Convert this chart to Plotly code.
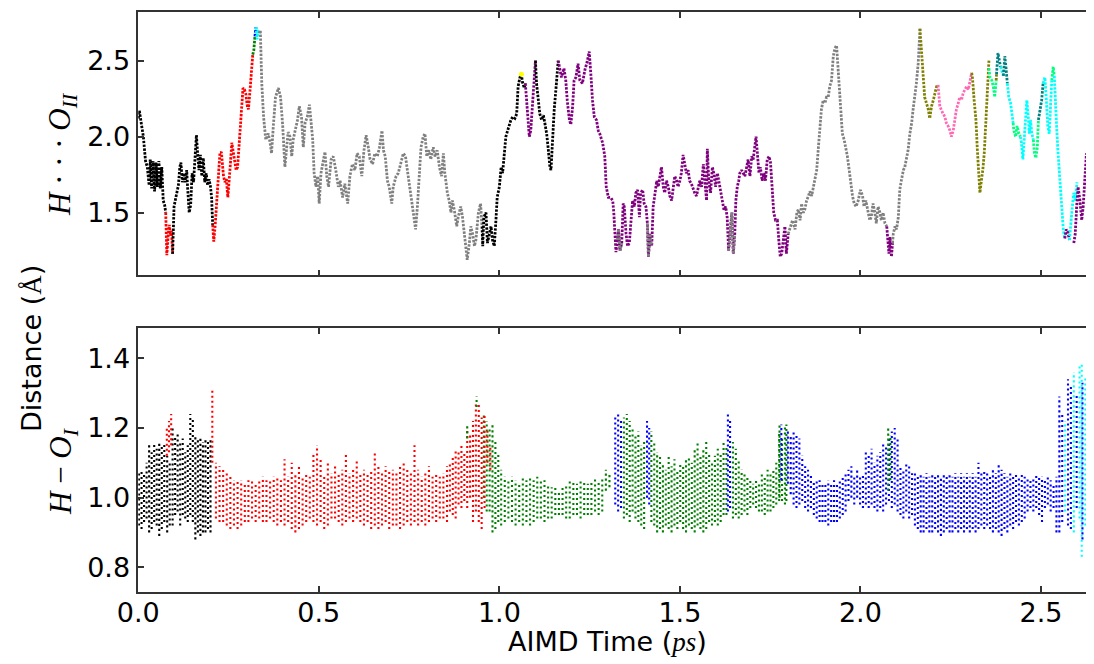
import plotly.graph_objects as go

# ---------------- colours ----------------
BLACK, RED, GRAY, GREEN = "#000000", "#ff0000", "#808080", "#008000"
BLUE, CYAN, YELLOW, PURPLE = "#0000ff", "#00ffff", "#ffff00", "#800080"
OLIVE, PINK, SPRING, TEAL = "#808000", "#ff69b4", "#00ff7f", "#008080"

# ---------------- upper panel: H...O_II distance (time ps, distance A) ----------------
U_BLACK_1 = [(0.000, 2.12), (0.003, 2.17), (0.010, 2.06), (0.014, 2.00), (0.020, 1.84), (0.025, 1.80),
             (0.030, 1.68), (0.033, 1.85), (0.037, 1.66), (0.041, 1.84), (0.045, 1.64), (0.049, 1.83),
             (0.053, 1.67), (0.057, 1.84), (0.061, 1.66), (0.065, 1.80), (0.069, 1.58), (0.073, 1.55),
             (0.076, 1.50)]
U_RED_1 = [(0.076, 1.50), (0.079, 1.22), (0.083, 1.36), (0.086, 1.42), (0.089, 1.35), (0.092, 1.38),
           (0.095, 1.23)]
U_BLACK_2 = [(0.095, 1.23), (0.099, 1.54), (0.104, 1.60), (0.111, 1.68), (0.115, 1.80), (0.118, 1.83),
             (0.122, 1.70), (0.126, 1.76), (0.130, 1.70), (0.134, 1.78), (0.137, 1.65), (0.141, 1.50),
             (0.145, 1.55), (0.149, 1.76), (0.153, 1.70), (0.157, 1.85), (0.161, 2.01), (0.164, 1.90),
             (0.168, 1.78), (0.172, 1.88), (0.176, 1.74), (0.180, 1.86), (0.184, 1.70), (0.188, 1.76),
             (0.192, 1.68), (0.196, 1.72), (0.200, 1.67), (0.203, 1.60), (0.206, 1.42)]
U_RED_2 = [(0.206, 1.42), (0.209, 1.31), (0.213, 1.42), (0.218, 1.58), (0.222, 1.74), (0.226, 1.89),
           (0.230, 1.90), (0.233, 1.78), (0.236, 1.74), (0.240, 1.70), (0.244, 1.72), (0.248, 1.60),
           (0.252, 1.70), (0.255, 1.82), (0.259, 1.96), (0.263, 1.90), (0.267, 1.85), (0.271, 1.78),
           (0.275, 1.80), (0.278, 1.91), (0.282, 2.02), (0.286, 2.18), (0.290, 2.32), (0.294, 2.31),
           (0.298, 2.28), (0.302, 2.20), (0.305, 2.18), (0.309, 2.29), (0.313, 2.39), (0.317, 2.54)]
U_GREEN_1 = [(0.317, 2.54), (0.320, 2.57), (0.323, 2.66)]
U_BLUE_1 = [(0.323, 2.66), (0.326, 2.72)]
U_CYAN_1 = [(0.326, 2.72), (0.329, 2.64), (0.332, 2.70), (0.335, 2.68)]
U_GRAY_1 = [(0.335, 2.68), (0.338, 2.70), (0.342, 2.35), (0.347, 2.13), (0.353, 1.98), (0.360, 2.02),
            (0.365, 1.96), (0.369, 1.89), (0.374, 2.07), (0.380, 2.26), (0.388, 2.32), (0.394, 2.26),
            (0.400, 2.07), (0.406, 1.80), (0.411, 1.93), (0.415, 2.03), (0.420, 2.00), (0.425, 1.87),
            (0.429, 1.98), (0.436, 2.06), (0.441, 2.11), (0.446, 2.20), (0.452, 2.13), (0.457, 1.93),
            (0.462, 2.09), (0.468, 2.13), (0.474, 2.21), (0.478, 2.11), (0.483, 1.98), (0.487, 1.76),
            (0.492, 1.67), (0.497, 1.74), (0.501, 1.56), (0.506, 1.76), (0.513, 1.87), (0.517, 1.90),
            (0.522, 1.74), (0.527, 1.67), (0.534, 1.85), (0.540, 1.87), (0.547, 1.78), (0.554, 1.67),
            (0.559, 1.71), (0.566, 1.60), (0.572, 1.69), (0.580, 1.56), (0.586, 1.74), (0.593, 1.82),
            (0.600, 1.78), (0.606, 1.89), (0.612, 1.87), (0.619, 1.74), (0.625, 1.91), (0.631, 2.01),
            (0.637, 1.93), (0.642, 1.85), (0.649, 1.82), (0.655, 1.89), (0.662, 1.87), (0.668, 1.93),
            (0.675, 2.04), (0.679, 1.91), (0.684, 1.87), (0.690, 1.71), (0.695, 1.67), (0.702, 1.56),
            (0.706, 1.67), (0.714, 1.74), (0.720, 1.76), (0.727, 1.82), (0.734, 1.89), (0.740, 1.87),
            (0.746, 1.76), (0.752, 1.67), (0.757, 1.58), (0.764, 1.43), (0.768, 1.39), (0.773, 1.54),
            (0.778, 1.74), (0.783, 1.93), (0.789, 2.00), (0.794, 2.02), (0.799, 1.87), (0.805, 1.91),
            (0.810, 1.85), (0.817, 1.93), (0.822, 1.87), (0.828, 1.91), (0.834, 1.80), (0.840, 1.74),
            (0.845, 1.89), (0.849, 1.76), (0.856, 1.63), (0.861, 1.58), (0.866, 1.50), (0.870, 1.58),
            (0.875, 1.52), (0.882, 1.41), (0.886, 1.47), (0.893, 1.54), (0.898, 1.47), (0.905, 1.32),
            (0.911, 1.19), (0.917, 1.30), (0.921, 1.41), (0.926, 1.36), (0.931, 1.28), (0.935, 1.32),
            (0.942, 1.50), (0.948, 1.56), (0.952, 1.41)]
U_BLACK_3 = [(0.952, 1.41), (0.954, 1.28), (0.957, 1.47), (0.963, 1.50), (0.967, 1.30), (0.972, 1.36),
             (0.977, 1.41), (0.981, 1.32), (0.986, 1.28), (0.991, 1.47), (0.994, 1.60), (1.000, 1.67),
             (1.005, 1.80), (1.009, 1.76), (1.014, 1.87), (1.018, 2.00), (1.023, 2.04), (1.027, 2.07),
             (1.032, 2.11), (1.037, 2.13), (1.043, 2.12), (1.048, 2.15), (1.052, 2.33), (1.057, 2.39),
             (1.061, 2.41), (1.064, 2.36), (1.069, 2.32), (1.072, 2.35)]
U_YELLOW = [(1.061, 2.41)]
U_PURPLE_1 = [(1.072, 2.35), (1.078, 2.13), (1.083, 2.00), (1.087, 2.04), (1.091, 2.20), (1.096, 2.37),
              (1.100, 2.50)]
U_BLACK_4 = [(1.100, 2.50), (1.103, 2.35), (1.108, 2.24), (1.112, 2.15), (1.117, 2.11), (1.122, 2.14),
             (1.126, 2.09), (1.131, 2.02), (1.135, 1.93), (1.140, 1.80), (1.143, 1.78), (1.147, 1.98),
             (1.152, 2.18), (1.158, 2.35), (1.163, 2.50)]
U_PURPLE_2 = [(1.163, 2.50), (1.168, 2.44), (1.172, 2.39), (1.179, 2.45), (1.184, 2.37), (1.188, 2.24),
              (1.194, 2.11), (1.198, 2.08), (1.203, 2.20), (1.207, 2.37), (1.212, 2.39), (1.218, 2.48),
              (1.223, 2.37), (1.230, 2.35), (1.237, 2.44), (1.243, 2.49), (1.249, 2.56), (1.254, 2.39),
              (1.258, 2.24), (1.263, 2.13), (1.269, 2.11), (1.274, 2.04), (1.278, 2.02), (1.286, 1.96),
              (1.292, 1.87), (1.296, 1.67), (1.302, 1.60), (1.308, 1.60), (1.314, 1.58), (1.317, 1.50),
              (1.320, 1.36), (1.323, 1.24), (1.327, 1.32), (1.330, 1.39), (1.334, 1.25), (1.339, 1.30),
              (1.343, 1.56), (1.346, 1.54), (1.351, 1.36), (1.355, 1.28), (1.360, 1.30), (1.364, 1.45),
              (1.369, 1.58), (1.374, 1.54), (1.378, 1.63), (1.383, 1.65), (1.388, 1.47), (1.391, 1.63),
              (1.397, 1.65), (1.401, 1.56), (1.406, 1.54), (1.410, 1.43), (1.413, 1.21), (1.417, 1.36),
              (1.422, 1.28), (1.426, 1.54), (1.431, 1.63), (1.436, 1.71), (1.440, 1.67), (1.445, 1.76),
              (1.449, 1.80), (1.454, 1.67), (1.458, 1.63), (1.463, 1.71), (1.468, 1.67), (1.472, 1.61),
              (1.477, 1.58), (1.482, 1.67), (1.486, 1.74), (1.491, 1.71), (1.495, 1.67), (1.500, 1.71),
              (1.504, 1.76), (1.509, 1.88), (1.514, 1.80), (1.518, 1.76), (1.523, 1.78), (1.527, 1.71),
              (1.532, 1.69), (1.537, 1.65), (1.541, 1.63), (1.546, 1.61), (1.551, 1.67), (1.555, 1.71),
              (1.560, 1.67), (1.565, 1.82), (1.569, 1.71), (1.574, 1.58), (1.576, 1.92), (1.580, 1.71),
              (1.585, 1.63), (1.590, 1.80), (1.594, 1.76), (1.599, 1.67), (1.604, 1.76), (1.608, 1.71),
              (1.613, 1.65), (1.617, 1.58), (1.622, 1.52), (1.627, 1.54), (1.631, 1.47), (1.635, 1.25),
              (1.639, 1.36), (1.644, 1.50), (1.648, 1.23), (1.652, 1.36), (1.655, 1.58), (1.659, 1.67),
              (1.663, 1.71), (1.666, 1.76), (1.671, 1.78), (1.675, 1.76), (1.680, 1.74), (1.685, 1.80),
              (1.689, 1.85), (1.694, 1.74), (1.699, 1.87), (1.703, 1.85), (1.708, 1.96), (1.711, 2.00),
              (1.714, 1.91), (1.719, 1.76), (1.723, 1.80), (1.728, 1.71), (1.733, 1.76), (1.737, 1.71),
              (1.742, 1.85), (1.747, 1.87), (1.751, 1.83), (1.756, 1.67), (1.760, 1.50), (1.765, 1.45),
              (1.770, 1.45), (1.774, 1.32), (1.778, 1.21), (1.782, 1.23), (1.787, 1.36), (1.791, 1.41),
              (1.795, 1.23), (1.800, 1.36)]
U_GRAY_A = [(1.327, 1.32), (1.330, 1.39), (1.334, 1.25), (1.339, 1.30)]
U_GRAY_B = [(1.410, 1.43), (1.413, 1.21), (1.417, 1.36), (1.422, 1.28)]
U_GRAY_C = [(1.635, 1.25), (1.639, 1.36), (1.644, 1.50), (1.648, 1.23), (1.652, 1.36)]
U_GRAY_2 = [(1.800, 1.36), (1.807, 1.41), (1.812, 1.45), (1.819, 1.39), (1.824, 1.50), (1.828, 1.52),
            (1.833, 1.45), (1.837, 1.56), (1.842, 1.50), (1.846, 1.52), (1.851, 1.58), (1.856, 1.61),
            (1.860, 1.64), (1.865, 1.61), (1.870, 1.67), (1.874, 1.71), (1.879, 1.78), (1.883, 1.91),
            (1.888, 2.04), (1.892, 2.18), (1.897, 2.24), (1.902, 2.22), (1.906, 2.26), (1.911, 2.26),
            (1.915, 2.33), (1.920, 2.37), (1.925, 2.53), (1.929, 2.58), (1.934, 2.60), (1.937, 2.50),
            (1.941, 2.33), (1.946, 2.18), (1.950, 2.02), (1.955, 1.98), (1.960, 1.93), (1.964, 1.87),
            (1.969, 1.78), (1.974, 1.67), (1.978, 1.61), (1.983, 1.56), (1.988, 1.54), (1.994, 1.58),
            (2.000, 1.65), (2.006, 1.61), (2.010, 1.54), (2.015, 1.58), (2.020, 1.52), (2.026, 1.45),
            (2.030, 1.47), (2.035, 1.56), (2.040, 1.50), (2.044, 1.43), (2.049, 1.54), (2.054, 1.50),
            (2.058, 1.45), (2.063, 1.50), (2.068, 1.43), (2.073, 1.41)]
U_PURPLE_3 = [(2.073, 1.41), (2.075, 1.36), (2.079, 1.23), (2.082, 1.34), (2.084, 1.28), (2.086, 1.21),
              (2.089, 1.30)]
U_GRAY_3 = [(2.089, 1.30), (2.091, 1.36), (2.096, 1.41), (2.100, 1.39), (2.105, 1.47), (2.109, 1.65),
            (2.114, 1.72), (2.119, 1.78), (2.123, 1.80), (2.128, 1.87), (2.132, 1.91), (2.137, 2.02),
            (2.142, 2.09), (2.146, 2.18), (2.151, 2.26), (2.155, 2.35), (2.160, 2.48), (2.165, 2.71)]
U_OLIVE_1 = [(2.165, 2.71), (2.169, 2.57), (2.174, 2.37), (2.178, 2.26), (2.183, 2.22), (2.188, 2.18),
             (2.192, 2.12), (2.197, 2.20), (2.202, 2.24), (2.206, 2.29), (2.211, 2.33), (2.215, 2.34)]
U_PINK_1 = [(2.215, 2.34), (2.217, 2.25), (2.220, 2.20), (2.225, 2.17), (2.229, 2.15), (2.234, 2.13),
            (2.238, 2.09), (2.243, 2.07), (2.248, 2.04), (2.252, 2.00), (2.257, 2.04), (2.262, 2.13),
            (2.266, 2.18), (2.271, 2.22), (2.275, 2.26), (2.280, 2.24), (2.285, 2.29), (2.290, 2.31),
            (2.294, 2.33), (2.299, 2.31), (2.303, 2.37), (2.308, 2.42)]
U_OLIVE_2 = [(2.308, 2.42), (2.310, 2.40), (2.315, 2.24), (2.320, 2.11), (2.324, 1.91), (2.328, 1.76),
             (2.331, 1.63), (2.335, 1.71), (2.339, 1.78), (2.343, 1.89), (2.347, 2.07), (2.350, 2.26),
             (2.354, 2.39), (2.356, 2.50)]
U_SPRING_1 = [(2.356, 2.45), (2.359, 2.39), (2.364, 2.37), (2.368, 2.33), (2.372, 2.26), (2.376, 2.37)]
U_OLIVE_3 = [(2.376, 2.37), (2.377, 2.41)]
U_TEAL_1 = [(2.377, 2.41), (2.381, 2.55), (2.385, 2.50), (2.388, 2.46)]
U_CYAN_2 = [(2.388, 2.46), (2.392, 2.42), (2.396, 2.40)]
U_TEAL_2 = [(2.396, 2.40), (2.400, 2.53), (2.403, 2.46), (2.407, 2.35)]
U_CYAN_3 = [(2.407, 2.35), (2.411, 2.26), (2.416, 2.22), (2.420, 2.15), (2.423, 2.09)]
U_SPRING_2 = [(2.423, 2.09), (2.425, 2.04), (2.430, 2.00), (2.434, 2.07), (2.439, 2.02), (2.443, 2.00)]
U_CYAN_4 = [(2.443, 2.00), (2.446, 1.96), (2.450, 1.85), (2.454, 1.98), (2.457, 2.13), (2.461, 2.24),
            (2.465, 2.13), (2.468, 2.02), (2.471, 2.11), (2.475, 2.02), (2.479, 1.98)]
U_SPRING_3 = [(2.479, 1.98), (2.482, 1.89), (2.486, 1.86), (2.490, 1.93), (2.493, 2.11)]
U_TEAL_3 = [(2.493, 2.11), (2.497, 2.18), (2.502, 2.24), (2.506, 2.35)]
U_CYAN_5 = [(2.506, 2.35), (2.511, 2.39), (2.515, 2.24), (2.519, 2.07), (2.523, 2.02), (2.527, 2.24),
            (2.530, 2.37)]
U_SPRING_4 = [(2.530, 2.37), (2.534, 2.46), (2.537, 2.40)]
U_CYAN_6 = [(2.537, 2.40), (2.541, 2.24), (2.543, 2.09), (2.547, 1.91), (2.551, 1.76), (2.554, 1.63),
            (2.558, 1.54), (2.562, 1.39), (2.566, 1.33)]
U_PURPLE_4 = [(2.566, 1.33), (2.570, 1.39), (2.575, 1.37), (2.579, 1.32)]
U_CYAN_7 = [(2.579, 1.32), (2.583, 1.45), (2.587, 1.54), (2.591, 1.63), (2.595, 1.58), (2.600, 1.70)]
U_PURPLE_5 = [(2.591, 1.30), (2.595, 1.36), (2.599, 1.54), (2.603, 1.67), (2.608, 1.58), (2.613, 1.45),
              (2.617, 1.54), (2.621, 1.72), (2.626, 1.89), (2.631, 1.76), (2.635, 1.63), (2.640, 1.80),
              (2.645, 1.98), (2.650, 2.05)]

UPPER_SEGMENTS = [
    (BLACK, U_BLACK_1), (RED, U_RED_1), (BLACK, U_BLACK_2), (RED, U_RED_2), (GREEN, U_GREEN_1),
    (BLUE, U_BLUE_1), (CYAN, U_CYAN_1), (GRAY, U_GRAY_1), (BLACK, U_BLACK_3), (PURPLE, U_PURPLE_1),
    (BLACK, U_BLACK_4), (PURPLE, U_PURPLE_2), (GRAY, U_GRAY_A), (GRAY, U_GRAY_B), (GRAY, U_GRAY_C),
    (GRAY, U_GRAY_2), (PURPLE, U_PURPLE_3), (GRAY, U_GRAY_3), (OLIVE, U_OLIVE_1), (PINK, U_PINK_1),
    (OLIVE, U_OLIVE_2), (SPRING, U_SPRING_1), (OLIVE, U_OLIVE_3), (TEAL, U_TEAL_1), (CYAN, U_CYAN_2),
    (TEAL, U_TEAL_2), (CYAN, U_CYAN_3), (SPRING, U_SPRING_2), (CYAN, U_CYAN_4), (SPRING, U_SPRING_3),
    (TEAL, U_TEAL_3), (CYAN, U_CYAN_5), (SPRING, U_SPRING_4), (CYAN, U_CYAN_6), (PURPLE, U_PURPLE_4),
    (CYAN, U_CYAN_7), (PURPLE, U_PURPLE_5),
]

# ---------------- lower panel: H-O_I distance, one vibration column = (time ps, min A, max A) ----------------
L_BLACK_1 = [(0.002, 0.92, 1.07), (0.009, 0.91, 1.08), (0.016, 0.93, 1.07), (0.023, 0.94, 1.10),
             (0.030, 0.90, 1.15), (0.037, 0.91, 1.13), (0.044, 0.93, 1.16), (0.051, 0.92, 1.14),
             (0.058, 0.89, 1.16), (0.065, 0.91, 1.15), (0.072, 0.93, 1.16)]
L_BLACK_2 = [(0.080, 0.90, 1.12), (0.087, 0.92, 1.10), (0.095, 0.92, 1.20), (0.102, 0.95, 1.18),
             (0.109, 0.96, 1.19), (0.116, 0.92, 1.16), (0.123, 0.95, 1.17), (0.130, 0.94, 1.13),
             (0.137, 0.93, 1.15), (0.144, 0.95, 1.24), (0.151, 0.93, 1.23), (0.158, 0.88, 1.18),
             (0.165, 0.90, 1.17), (0.172, 0.89, 1.17), (0.179, 0.90, 1.16), (0.186, 0.90, 1.17),
             (0.193, 0.91, 1.16), (0.200, 0.90, 1.17)]
L_RED_1 = [(0.079, 1.12, 1.20), (0.085, 1.13, 1.22), (0.091, 1.15, 1.24)]
L_RED_2 = [(0.205, 1.10, 1.31), (0.215, 0.94, 1.10), (0.225, 0.93, 1.09), (0.235, 0.93, 1.08),
           (0.245, 0.92, 1.07), (0.255, 0.91, 1.06), (0.265, 0.92, 1.05), (0.275, 0.91, 1.05),
           (0.285, 0.92, 1.05), (0.295, 0.93, 1.04), (0.305, 0.93, 1.05), (0.315, 0.94, 1.05),
           (0.325, 0.93, 1.04), (0.335, 0.94, 1.05), (0.345, 0.93, 1.06), (0.355, 0.93, 1.05),
           (0.365, 0.94, 1.05), (0.375, 0.93, 1.06), (0.385, 0.92, 1.06), (0.395, 0.93, 1.05),
           (0.405, 0.92, 1.11), (0.415, 0.93, 1.06), (0.425, 0.91, 1.10), (0.435, 0.90, 1.07),
           (0.445, 0.91, 1.09), (0.455, 0.92, 1.06), (0.465, 0.93, 1.07), (0.475, 0.94, 1.06),
           (0.485, 0.93, 1.13), (0.495, 0.92, 1.15), (0.505, 0.93, 1.11), (0.515, 0.91, 1.06),
           (0.525, 0.92, 1.10), (0.535, 0.94, 1.07), (0.545, 0.94, 1.09), (0.555, 0.93, 1.07),
           (0.565, 0.92, 1.08), (0.575, 0.93, 1.13), (0.585, 0.94, 1.07), (0.595, 0.93, 1.08),
           (0.605, 0.94, 1.11), (0.615, 0.93, 1.07), (0.625, 0.92, 1.08), (0.635, 0.93, 1.07),
           (0.645, 0.91, 1.08), (0.655, 0.92, 1.13), (0.665, 0.91, 1.09), (0.675, 0.92, 1.07),
           (0.685, 0.93, 1.09), (0.695, 0.91, 1.08), (0.705, 0.92, 1.08), (0.715, 0.92, 1.07),
           (0.725, 0.91, 1.09), (0.735, 0.92, 1.10), (0.745, 0.93, 1.08), (0.755, 0.92, 1.07),
           (0.765, 0.93, 1.15), (0.775, 0.92, 1.08), (0.785, 0.93, 1.06), (0.795, 0.92, 1.07),
           (0.805, 0.93, 1.09), (0.815, 0.94, 1.06), (0.825, 0.93, 1.07), (0.835, 0.94, 1.06)]
L_GREEN_1 = [(0.957, 1.00, 1.24), (0.965, 0.96, 1.22), (0.973, 0.96, 1.20), (0.981, 0.90, 1.21),
             (0.989, 0.91, 1.16), (0.997, 0.93, 1.13), (1.005, 0.92, 1.08), (1.015, 0.93, 1.06),
             (1.025, 0.94, 1.05), (1.035, 0.93, 1.06), (1.045, 0.92, 1.05), (1.055, 0.93, 1.04),
             (1.065, 0.92, 1.06), (1.075, 0.93, 1.05), (1.085, 0.92, 1.06), (1.095, 0.93, 1.05),
             (1.105, 0.94, 1.06), (1.115, 0.94, 1.05), (1.125, 0.93, 1.05), (1.135, 0.94, 1.04),
             (1.145, 0.94, 1.03), (1.155, 0.95, 1.03), (1.165, 0.95, 1.02), (1.175, 0.95, 1.03),
             (1.185, 0.94, 1.04), (1.195, 0.94, 1.05), (1.205, 0.95, 1.05), (1.215, 0.95, 1.04),
             (1.225, 0.94, 1.05), (1.235, 0.95, 1.05), (1.245, 0.95, 1.04), (1.255, 0.95, 1.05),
             (1.265, 0.96, 1.06), (1.275, 0.95, 1.05), (1.285, 0.96, 1.06), (1.295, 1.02, 1.08),
             (1.305, 1.03, 1.07)]
L_RED_3 = [(0.845, 0.94, 1.07), (0.855, 0.93, 1.09), (0.863, 0.96, 1.10), (0.871, 0.95, 1.12),
           (0.879, 0.94, 1.14), (0.887, 0.98, 1.13), (0.895, 0.97, 1.15), (0.903, 0.99, 1.13),
           (0.911, 0.97, 1.20), (0.919, 1.00, 1.18), (0.927, 0.93, 1.22), (0.935, 0.96, 1.27),
           (0.943, 0.93, 1.27), (0.951, 0.91, 1.23), (0.959, 0.97, 1.24), (0.967, 1.10, 1.20),
           (0.975, 1.08, 1.15)]
L_GREEN_TIPS = [(0.911, 1.17, 1.21), (0.937, 1.26, 1.29)]
L_GREEN_2 = [(1.345, 0.94, 1.23), (1.353, 0.95, 1.24), (1.361, 0.93, 1.22), (1.369, 0.96, 1.20),
             (1.377, 0.94, 1.18), (1.385, 0.93, 1.19), (1.393, 0.92, 1.15), (1.401, 0.91, 1.16),
             (1.421, 0.93, 1.19), (1.429, 0.92, 1.16), (1.437, 0.90, 1.13), (1.445, 0.91, 1.12),
             (1.453, 0.90, 1.10), (1.461, 0.92, 1.08), (1.469, 0.91, 1.12), (1.477, 0.90, 1.09),
             (1.485, 0.92, 1.11), (1.493, 0.91, 1.08), (1.501, 0.93, 1.10), (1.509, 0.91, 1.09),
             (1.517, 0.90, 1.11), (1.525, 0.92, 1.12), (1.533, 0.91, 1.10), (1.541, 0.90, 1.14),
             (1.549, 0.92, 1.16), (1.557, 0.91, 1.12), (1.565, 0.90, 1.14), (1.573, 0.91, 1.16),
             (1.581, 0.93, 1.13), (1.589, 0.92, 1.10), (1.597, 0.93, 1.12), (1.605, 0.92, 1.14),
             (1.613, 0.93, 1.13), (1.621, 0.95, 1.16), (1.629, 0.95, 1.15), (1.647, 0.94, 1.16),
             (1.655, 0.95, 1.14), (1.663, 0.94, 1.11), (1.671, 0.95, 1.08), (1.679, 0.96, 1.07),
             (1.687, 0.95, 1.06), (1.695, 0.97, 1.05), (1.703, 0.98, 1.04), (1.711, 0.97, 1.05),
             (1.719, 0.96, 1.04), (1.727, 0.96, 1.07), (1.735, 0.95, 1.06), (1.743, 0.96, 1.08),
             (1.751, 0.96, 1.07), (1.759, 0.97, 1.08), (1.767, 0.98, 1.10), (1.775, 0.99, 1.19),
             (1.783, 0.99, 1.17), (1.791, 0.98, 1.21)]
L_BLUE_1 = [(1.321, 0.98, 1.23), (1.329, 0.96, 1.24), (1.337, 0.97, 1.22), (1.409, 1.00, 1.22),
            (1.415, 0.98, 1.20), (1.633, 0.96, 1.24), (1.639, 0.97, 1.22)]
L_BLUE_2 = [(1.781, 1.05, 1.21), (1.799, 1.04, 1.19), (1.807, 1.01, 1.18), (1.815, 0.98, 1.19),
            (1.823, 0.97, 1.18), (1.831, 0.98, 1.17), (1.839, 0.99, 1.12), (1.847, 0.97, 1.09),
            (1.855, 0.96, 1.08), (1.863, 0.97, 1.07), (1.871, 0.95, 1.05), (1.879, 0.94, 1.05),
            (1.887, 0.93, 1.05), (1.895, 0.93, 1.04), (1.903, 0.93, 1.04), (1.911, 0.92, 1.05),
            (1.919, 0.93, 1.04), (1.927, 0.93, 1.05), (1.935, 0.93, 1.04), (1.943, 0.94, 1.05),
            (1.951, 0.95, 1.06), (1.959, 0.96, 1.07), (1.967, 0.99, 1.08), (1.975, 1.00, 1.09),
            (1.983, 0.98, 1.06), (1.991, 1.00, 1.08), (1.999, 0.98, 1.06), (2.007, 0.97, 1.07),
            (2.015, 0.98, 1.13), (2.023, 0.97, 1.12), (2.031, 0.98, 1.14), (2.039, 0.97, 1.10),
            (2.047, 0.96, 1.12), (2.055, 0.97, 1.13), (2.063, 0.96, 1.16), (2.071, 0.98, 1.15),
            (2.079, 0.99, 1.17), (2.087, 0.97, 1.19), (2.095, 0.98, 1.20), (2.103, 0.96, 1.17),
            (2.111, 0.95, 1.09), (2.119, 0.94, 1.08), (2.127, 0.96, 1.10), (2.135, 0.94, 1.09),
            (2.143, 0.95, 1.07), (2.151, 0.92, 1.07), (2.159, 0.91, 1.06), (2.167, 0.90, 1.07),
            (2.175, 0.90, 1.06), (2.183, 0.91, 1.07), (2.191, 0.90, 1.06), (2.199, 0.90, 1.07),
            (2.207, 0.91, 1.06), (2.215, 0.90, 1.07), (2.223, 0.89, 1.06), (2.231, 0.90, 1.07),
            (2.239, 0.91, 1.06), (2.247, 0.90, 1.07), (2.255, 0.90, 1.06), (2.263, 0.91, 1.07),
            (2.271, 0.90, 1.06), (2.279, 0.91, 1.07), (2.287, 0.90, 1.06), (2.295, 0.91, 1.07),
            (2.303, 0.90, 1.06), (2.311, 0.91, 1.07), (2.319, 0.90, 1.06), (2.327, 0.91, 1.10),
            (2.335, 0.92, 1.07), (2.343, 0.91, 1.08), (2.351, 0.92, 1.07), (2.359, 0.91, 1.06),
            (2.367, 0.90, 1.08), (2.375, 0.91, 1.07), (2.383, 0.90, 1.10), (2.391, 0.89, 1.08),
            (2.399, 0.91, 1.07), (2.407, 0.90, 1.06), (2.415, 0.92, 1.07), (2.423, 0.91, 1.06),
            (2.431, 0.93, 1.07), (2.439, 0.92, 1.06), (2.447, 0.93, 1.07), (2.455, 0.94, 1.06),
            (2.463, 0.96, 1.06), (2.471, 0.97, 1.05), (2.479, 0.96, 1.06), (2.487, 0.97, 1.07),
            (2.495, 0.95, 1.06), (2.503, 0.93, 1.06), (2.511, 0.97, 1.05), (2.519, 0.98, 1.06),
            (2.527, 0.96, 1.05), (2.535, 0.97, 1.04), (2.543, 0.90, 1.06), (2.551, 0.90, 1.29),
            (2.559, 0.93, 1.24), (2.575, 0.92, 1.34), (2.583, 0.91, 1.32), (2.599, 0.97, 1.30),
            (2.615, 0.88, 1.33), (2.631, 0.95, 1.29)]
L_GREEN_3 = [(1.776, 1.00, 1.21), (1.795, 0.99, 1.21), (2.077, 1.02, 1.20), (2.083, 1.05, 1.18)]
L_CYAN_1 = [(2.567, 0.96, 1.22), (2.591, 0.90, 1.36), (2.607, 0.94, 1.38), (2.613, 0.83, 1.39),
            (2.623, 0.92, 1.35), (2.639, 0.86, 1.30), (2.645, 0.95, 1.28)]

LOWER_SEGMENTS = [
    (BLACK, L_BLACK_1), (BLACK, L_BLACK_2), (RED, L_RED_1), (RED, L_RED_2), (GREEN, L_GREEN_1),
    (RED, L_RED_3), (GREEN, L_GREEN_TIPS), (GREEN, L_GREEN_2), (BLUE, L_BLUE_1), (BLUE, L_BLUE_2),
    (GREEN, L_GREEN_3), (CYAN, L_CYAN_1),
]

X_TICKS = [0.0, 0.5, 1.0, 1.5, 2.0, 2.5]
X_TICK_TEXT = ["0.0", "0.5", "1.0", "1.5", "2.0", "2.5"]
UP_TICKS = [1.5, 2.0, 2.5]
UP_TICK_TEXT = ["1.5", "2.0", "2.5"]
LOW_TICKS = [0.8, 1.0, 1.2, 1.4]
LOW_TICK_TEXT = ["0.8", "1.0", "1.2", "1.4"]

fig = go.Figure()

for color, seg in UPPER_SEGMENTS:
    ts = [p[0] for p in seg]
    ds = [p[1] for p in seg]
    fig.add_trace(go.Scatter(x=ts, y=ds, mode="lines", xaxis="x2", yaxis="y2",
                             line=dict(color=color, width=2.8, dash="2.4px,1.4px"),
                             hoverinfo="skip", showlegend=False))
fig.add_trace(go.Scatter(x=[p[0] for p in U_YELLOW], y=[p[1] for p in U_YELLOW], mode="markers",
                         xaxis="x2", yaxis="y2", marker=dict(color=YELLOW, size=5),
                         hoverinfo="skip", showlegend=False))

for color, seg in LOWER_SEGMENTS:
    xs, ys = [], []
    for t, lo, hi in seg:
        xs += [t, t, None]
        ys += [lo, hi, None]
    fig.add_trace(go.Scatter(x=xs, y=ys, mode="lines", xaxis="x", yaxis="y",
                             line=dict(color=color, width=2.1, dash="2.1px,2.9px"),
                             hoverinfo="skip", showlegend=False, connectgaps=False))

# the page body adds an 8 px offset at the top-left, so the figure is sized and shifted for it
W, H = 1086, 656
TICKFONT = dict(family="DejaVu Sans", size=27, color="#000000")
AXLINE = dict(showline=True, linecolor="#333333", linewidth=1.6, ticks="inside", ticklen=6,
              tickwidth=1.5, tickcolor="#333333", showgrid=False, zeroline=False, automargin=False)


def px(x):
    # page x (px) -> paper fraction
    return (x - 8) / W


def py(y):
    # page y (px) -> paper fraction
    return (H - (y - 8)) / H


XDOM = [px(138.3), 1.0]
UP_DOM = [py(275.3), py(11.7)]
LOW_DOM = [py(591.7), py(328.3)]

fig.update_layout(
    width=W, height=H, margin=dict(l=0, r=0, t=0, b=0, pad=0), autosize=False,
    paper_bgcolor="white", plot_bgcolor="white", hovermode=False,
    xaxis=dict(domain=XDOM, anchor="y", range=[0, 2.647], tickvals=X_TICKS, ticktext=X_TICK_TEXT,
               mirror="ticks", tickfont=TICKFONT, ticklabelstandoff=-4, **AXLINE),
    yaxis=dict(domain=LOW_DOM, anchor="x", range=[0.730, 1.486], tickvals=LOW_TICKS,
               ticktext=LOW_TICK_TEXT, tickfont=TICKFONT, ticklabelstandoff=1, **AXLINE),
    xaxis2=dict(domain=XDOM, anchor="y2", range=[0, 2.647], tickvals=X_TICKS, showticklabels=False,
                mirror="ticks", **AXLINE),
    yaxis2=dict(domain=UP_DOM, anchor="x2", range=[1.088, 2.822], tickvals=UP_TICKS,
                ticktext=UP_TICK_TEXT, tickfont=TICKFONT, ticklabelstandoff=1, **AXLINE),
    annotations=[
        dict(text="AIMD Time (<span style='font-family:Liberation Serif'><i>ps</i></span>)",
             x=px(607), y=py(641), xref="paper", yref="paper", showarrow=False,
             xanchor="center", yanchor="middle",
             font=dict(family="DejaVu Sans", size=27, color="#000000")),
        dict(text="Distance (<span style='font-family:Liberation Serif'>Å</span>)",
             x=px(31), y=py(349), xref="paper", yref="paper", showarrow=False,
             textangle=-90, xanchor="center", yanchor="middle",
             font=dict(family="DejaVu Sans", size=27, color="#000000")),
        dict(text="<i>H</i> · · · <i>O</i><sub><i>II</i></sub>",
             x=px(62.5), y=py(154.5), xref="paper", yref="paper", showarrow=False,
             textangle=-90, xanchor="center", yanchor="middle",
             font=dict(family="Liberation Serif", size=31, color="#000000")),
        dict(text="<i>H</i> − <i>O</i><sub><i>I</i></sub>",
             x=px(62.5), y=py(471.5), xref="paper", yref="paper", showarrow=False,
             textangle=-90, xanchor="center", yanchor="middle",
             font=dict(family="Liberation Serif", size=31, color="#000000")),
    ],
)

fig.write_html("out.html")
